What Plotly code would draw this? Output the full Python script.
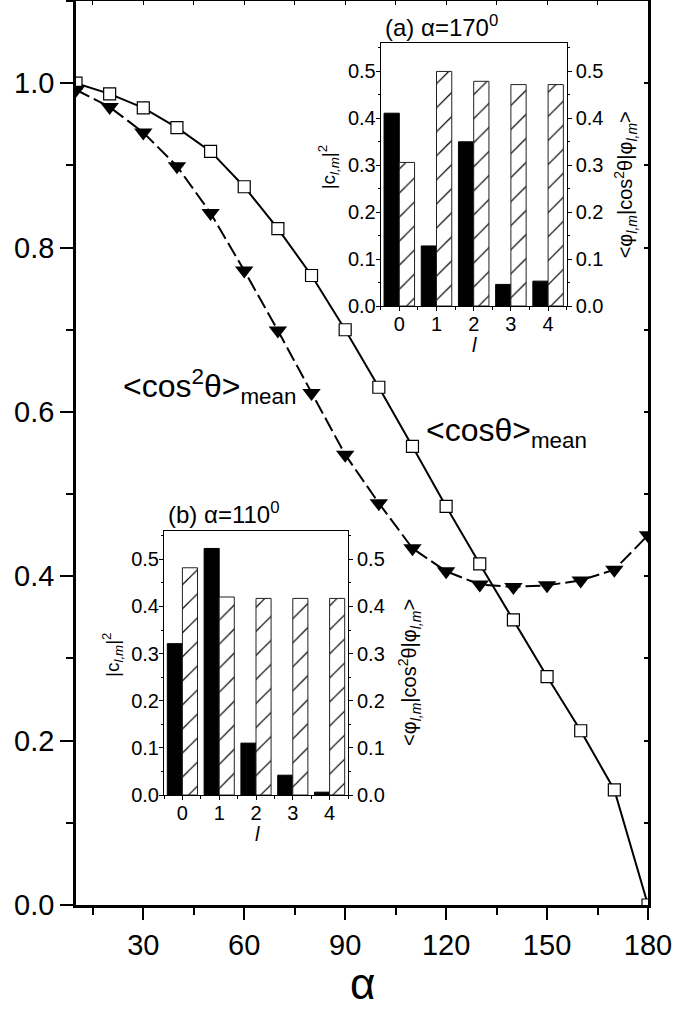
import plotly.graph_objects as go

# ---- main curves: mean orientation versus alpha ----
alpha = [10, 20, 30, 40, 50, 60, 70, 80, 90, 100, 110, 120, 130, 140, 150, 160, 170, 180]
cos_mean = [1.000, 0.987, 0.970, 0.946, 0.917, 0.874, 0.823, 0.766, 0.700, 0.630,
            0.558, 0.485, 0.415, 0.347, 0.278, 0.212, 0.140, 0.000]
cos2_mean = [0.992, 0.971, 0.940, 0.899, 0.842, 0.772, 0.699, 0.623, 0.548, 0.489,
             0.434, 0.406, 0.390, 0.387, 0.389, 0.395, 0.408, 0.450]

# ---- inset bar data ----
l_vals = [0, 1, 2, 3, 4]
c2_a = [0.411, 0.128, 0.350, 0.046, 0.053]      # |c_lm|^2, alpha = 170
me_a = [0.306, 0.500, 0.479, 0.472, 0.472]      # <phi|cos^2|phi>, alpha = 170
c2_b = [0.321, 0.523, 0.110, 0.042, 0.006]      # |c_lm|^2, alpha = 110
me_b = [0.482, 0.420, 0.417, 0.417, 0.417]      # <phi|cos^2|phi>, alpha = 110

W, H = 675, 1011
FONT = "Liberation Sans, Arial, sans-serif"


def px(x):
    return x / W


def py(y):
    return 1 - y / H


fig = go.Figure()

# main series
fig.add_trace(go.Scatter(
    x=alpha, y=cos_mean, mode="lines+markers", xaxis="x", yaxis="y",
    line=dict(color="black", width=2),
    marker=dict(symbol="square", size=12, color="white", line=dict(color="black", width=1.2)),
    showlegend=False, hoverinfo="skip"))
fig.add_trace(go.Scatter(
    x=alpha, y=cos2_mean, mode="lines+markers", xaxis="x", yaxis="y",
    line=dict(color="black", width=2, dash="15px,5px"),
    marker=dict(symbol="triangle-down", size=16, color="black"),
    showlegend=False, hoverinfo="skip"))

# invisible carriers for the inward-tick frame axes (top and right)
fig.add_trace(go.Scatter(x=[alpha[0]], y=[0], xaxis="x4", yaxis="y", mode="markers",
                         marker=dict(opacity=0), showlegend=False, hoverinfo="skip"))
fig.add_trace(go.Scatter(x=[alpha[0]], y=[0], xaxis="x", yaxis="y5", mode="markers",
                         marker=dict(opacity=0), showlegend=False, hoverinfo="skip"))

BW = 0.41
hatch = dict(shape="/", fgcolor="black", bgcolor="white", fillmode="replace",
             fgopacity=1, size=17, solidity=0.07)

# inset (a)
fig.add_trace(go.Bar(x=l_vals, y=c2_a, xaxis="x2", yaxis="y2", offset=-BW, width=BW,
                     marker=dict(color="black", line=dict(color="black", width=1)),
                     showlegend=False, hoverinfo="skip"))
fig.add_trace(go.Bar(x=l_vals, y=me_a, xaxis="x2", yaxis="y3", offset=0, width=BW,
                     marker=dict(color="white", pattern=hatch, line=dict(color="#222", width=1)),
                     showlegend=False, hoverinfo="skip"))
# inset (b)
fig.add_trace(go.Bar(x=l_vals, y=c2_b, xaxis="x3", yaxis="y4", offset=-BW, width=BW,
                     marker=dict(color="black", line=dict(color="black", width=1)),
                     showlegend=False, hoverinfo="skip"))
fig.add_trace(go.Bar(x=l_vals, y=me_b, xaxis="x3", yaxis="y6", offset=0, width=BW,
                     marker=dict(color="white", pattern=hatch, line=dict(color="#222", width=1)),
                     showlegend=False, hoverinfo="skip"))

main_x = [px(76), px(648)]
main_y = [py(905), py(1)]
a_x = [px(380.7), px(566.7)]
a_y = [py(306), py(43.3)]
b_x = [px(164), px(348)]
b_y = [py(795), py(531)]

common = dict(showgrid=False, zeroline=False, color="black", automargin=False)

main_tick = dict(tickfont=dict(family=FONT, size=29, color="black"))
inset_tick = dict(tickfont=dict(family=FONT, size=20, color="black"))


def inset_x(dom, anchor):
    return dict(domain=dom, anchor=anchor, range=[-0.5, 4.5], tickvals=l_vals,
                ticks="outside", ticklen=4, tickwidth=1, showline=True, linewidth=1,
                linecolor="black", mirror=True, ticklabelstandoff=-4,
                minor=dict(tick0=0.5, dtick=1, ticks="outside", ticklen=3, tickcolor="black"),
                **inset_tick, **common)


def inset_y(dom, anchor, side="left", overlaying=None):
    d = dict(anchor=anchor, range=[0, 0.56], tick0=0, dtick=0.1, tickformat=".1f",
             ticks="outside", ticklen=4, tickwidth=1, showline=True, linewidth=1,
             linecolor="black", side=side,
             ticklabelstandoff=(-4 if side == "left" else 0),
             minor=dict(dtick=0.05, ticks="outside", ticklen=2, tickcolor="black"),
             **inset_tick, **common)
    if overlaying:
        d["overlaying"] = overlaying
    else:
        d["domain"] = dom
    return d


fig.update_layout(
    template="none",
    width=W, height=H,
    margin=dict(l=0, r=0, t=0, b=0, autoexpand=False),
    paper_bgcolor="white", plot_bgcolor="white",
    font=dict(family=FONT, color="black"),
    showlegend=False,
    xaxis=dict(domain=main_x, anchor="y", range=[10, 180], tick0=0, dtick=30,
               ticks="outside", ticklen=12, tickwidth=2, showline=True, linewidth=2.5,
               linecolor="black", ticklabelstandoff=0,
               minor=dict(tick0=0, dtick=15, ticks="outside", ticklen=7, tickwidth=2,
                          tickcolor="black"),
               **main_tick, **common),
    yaxis=dict(domain=main_y, anchor="x", range=[0, 1.1], tick0=0, dtick=0.2,
               tickformat=".1f", ticks="outside", ticklen=13, tickwidth=2,
               showline=True, linewidth=2.5, linecolor="black", ticklabelstandoff=0,
               minor=dict(dtick=0.1, ticks="outside", ticklen=7, tickwidth=2,
                          tickcolor="black"),
               **main_tick, **common),
    xaxis4=dict(overlaying="x", side="top", anchor="y", range=[10, 180], tick0=0,
                dtick=15, ticks="inside", ticklen=4, tickwidth=1, showticklabels=False,
                showline=True, linewidth=2.5, linecolor="black", **common),
    yaxis5=dict(overlaying="y", side="right", anchor="x", range=[0, 1.1], tick0=0,
                dtick=0.1, ticks="inside", ticklen=4, tickwidth=1.5, showticklabels=False,
                showline=True, linewidth=2.5, linecolor="black", **common),
    xaxis2=inset_x(a_x, "y2"),
    yaxis2=inset_y(a_y, "x2"),
    yaxis3=inset_y(a_y, "x2", side="right", overlaying="y2"),
    xaxis3=inset_x(b_x, "y4"),
    yaxis4=inset_y(b_y, "x3"),
    yaxis6=inset_y(b_y, "x3", side="right", overlaying="y4"),
)

ann = []


def add_text(text, x, y, size, xanchor="left", yanchor="middle", angle=0):
    ann.append(dict(text=text, x=px(x), y=py(y), xref="paper", yref="paper",
                    xanchor=xanchor, yanchor=yanchor, textangle=angle, showarrow=False,
                    font=dict(family=FONT, size=size, color="black")))


# curve labels
add_text("&lt;cos<sup>2</sup>θ&gt;<sub>mean</sub>", 121, 386, 32)
add_text("&lt;cosθ&gt;<sub>mean</sub>", 424, 432, 32)
# main x title
add_text("α", 362, 983, 44, xanchor="center")

# inset titles
add_text("(a) α=170<sup>0</sup>", 383, 26, 24)
add_text("(b) α=110<sup>0</sup>", 166, 513, 24)

# inset axis titles
for fx, fy0, fy1 in [(380.7, 43.3, 306), (164, 531, 795)]:
    add_text("|c<sub><i>l,m</i></sub>|<sup>2</sup>", fx - 52, (fy0 + fy1) / 2 - 8, 19,
             xanchor="center", angle=-90)
    add_text("&lt;φ<sub><i>l,m</i></sub>|cos<sup>2</sup>θ|φ<sub><i>l,m</i></sub>&gt;",
             fx + 186 + 59, (fy0 + fy1) / 2 + 10, 20, xanchor="center", angle=-90)
    add_text("<i>l</i>", fx + 93.5, fy1 + 39, 20, xanchor="center")

fig.update_layout(annotations=ann)

fig.write_html("out.html")
